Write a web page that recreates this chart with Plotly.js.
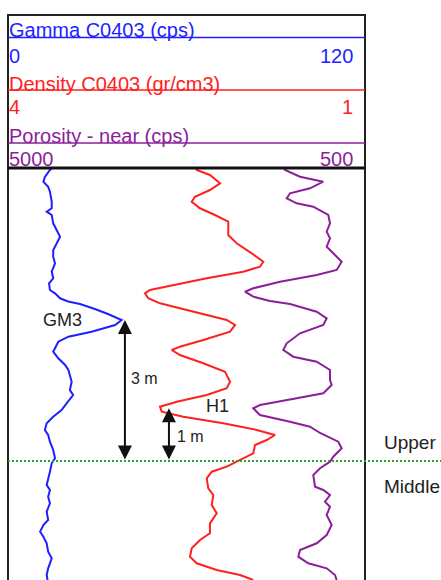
<!DOCTYPE html>
<html><head><meta charset="utf-8">
<script src="https://cdn.plot.ly/plotly-3.0.1.min.js"></script>
<style>html,body{margin:0;padding:0;background:#fff}#chart{width:441px;height:580px}</style>
</head><body><div id="chart"></div>
<script>
// ---- data (depth in m from top of displayed interval) ----
const gammaDepth = [0,0.043,0.191,0.291,0.398,0.504,0.717,0.857,0.930,1.000,1.177,1.319,1.462,1.602,1.745,1.887,2.028,2.206,2.347,2.453,2.596,2.666,2.772,2.840,2.894,3.000,3.106,3.234,3.340,3.483,3.589,3.696,3.909,4.049,4.191,4.298,4.547,4.723,4.830,5.006,5.149,5.291,5.432,5.574,5.681,5.823,6.000,6.177,6.283,6.462,6.638,6.745,6.851,6.994,7.134,7.313,7.489,7.596,7.738,7.845,7.985,8.164,8.304,8.517,8.660,8.766];
const gammaValues = [14.8,14.1,12.4,11.9,13.5,14.1,14.7,14.7,13.0,14.7,15.2,16.4,17.5,16.4,15.2,15.2,15.8,14.7,15.2,13.8,14.1,15.8,17.5,20.2,24.2,29.2,33.6,38.2,36.0,28.1,20.3,16.9,15.2,16.9,19.2,20.3,21.4,20.8,21.9,19.7,18.0,15.2,13.0,12.4,13.5,14.1,15.2,15.8,14.7,14.1,13.5,13.0,14.1,13.5,14.1,13.0,13.5,11.9,10.8,11.9,13.0,13.5,14.7,13.5,13.0,13.3];

const densityDepth = [0,0.043,0.149,0.326,0.468,0.611,0.717,0.857,1.000,1.143,1.426,1.602,1.815,1.994,2.100,2.206,2.347,2.489,2.596,2.666,2.772,2.879,2.951,3.091,3.234,3.340,3.483,3.660,3.802,3.872,3.979,4.155,4.334,4.547,4.687,4.830,4.972,5.079,5.185,5.291,5.432,5.574,5.681,5.787,5.894,6.070,6.213,6.355,6.462,6.602,6.815,6.957,7.170,7.347,7.560,7.772,7.915,8.091,8.270,8.411,8.553,8.660,8.766];
const densityValues = [2.420,2.414,2.303,2.218,2.303,2.429,2.456,2.387,2.261,2.149,2.149,2.078,1.952,1.855,1.882,2.023,2.330,2.611,2.807,2.849,2.821,2.723,2.611,2.387,2.162,2.092,2.134,2.359,2.555,2.624,2.555,2.359,2.176,2.134,2.162,2.330,2.582,2.723,2.708,2.527,2.191,1.910,1.756,1.826,1.924,1.939,2.050,2.162,2.288,2.330,2.317,2.275,2.288,2.246,2.303,2.303,2.387,2.456,2.471,2.414,2.246,2.050,1.939];

const porosityDepth = [0,0.043,0.185,0.291,0.432,0.538,0.645,0.751,0.823,1.000,1.177,1.355,1.496,1.674,1.815,1.994,2.170,2.277,2.419,2.560,2.632,2.738,2.830,2.894,3.057,3.198,3.340,3.517,3.730,3.872,4.015,4.121,4.298,4.511,4.617,4.794,4.900,5.043,5.113,5.255,5.398,5.504,5.638,5.745,5.823,5.964,6.143,6.249,6.389,6.532,6.781,6.851,6.957,7.100,7.206,7.383,7.596,7.809,7.985,8.128,8.270,8.411,8.517,8.660,8.766];
const porosityValues = [1521,1508,1319,1026,1193,1445,1487,1361,1152,963,941,983,941,983,900,794,857,1109,1571,1908,2013,1908,1697,1445,1109,983,1026,1319,1487,1530,1404,1109,941,941,920,1026,1361,1824,1908,1824,1445,1193,1067,941,837,794,900,941,1067,1152,1130,1026,941,1004,941,983,920,983,1109,1319,1341,1215,983,878,857];

const trackNames = ['Gamma C0403 (cps)', 'Density C0403 (gr/cm3)', 'Porosity - near (cps)'];
const gammaScale = [0, 120];
const densityScale = [4, 1];
const porosityScale = [5000, 500];
const trackColors = ['#1f1fff', '#ff2020', '#8c1e9c'];

const gm3Depth = 3.234;      // GM3 gamma peak
const h1Depth = 5.11;        // H1 density pick
const boundaryDepth = 6.234; // Upper / Middle boundary
const zoneNames = ['Upper', 'Middle'];
const depthRange = [8.766, 0];

// ---- layout helpers (pixel -> paper) ----
const W = 441, H = 580;
const px = v => v / W;
const py = v => 1 - v / H;
const FONT = 'Liberation Sans, Arial, sans-serif';
const xDom = [px(8), px(365)];
const yDom = [0, py(168)];

const traces = [
  {x: gammaValues, y: gammaDepth, xaxis: 'x', yaxis: 'y', mode: 'lines', line: {color: trackColors[0], width: 2}, hoverinfo: 'skip'},
  {x: densityValues, y: densityDepth, xaxis: 'x2', yaxis: 'y', mode: 'lines', line: {color: trackColors[1], width: 2}, hoverinfo: 'skip'},
  {x: porosityValues, y: porosityDepth, xaxis: 'x3', yaxis: 'y', mode: 'lines', line: {color: trackColors[2], width: 2}, hoverinfo: 'skip'}
];

const hiddenAx = {showgrid: false, zeroline: false, showticklabels: false, ticks: '', showline: false, fixedrange: true, domain: xDom};

const shapes = [
  {type: 'line', xref: 'paper', yref: 'paper', x0: px(8), x1: px(365), y0: py(15), y1: py(15), line: {color: '#222', width: 2}},
  {type: 'line', xref: 'paper', yref: 'paper', x0: px(8), x1: px(8), y0: py(14), y1: 0, line: {color: '#222', width: 2}},
  {type: 'line', xref: 'paper', yref: 'paper', x0: px(365), x1: px(365), y0: py(14), y1: 0, line: {color: '#222', width: 2}},
  {type: 'line', xref: 'paper', yref: 'paper', x0: px(8), x1: px(365), y0: py(168), y1: py(168), line: {color: '#111', width: 3}},
  {type: 'line', xref: 'paper', yref: 'paper', x0: px(8), x1: px(365), y0: py(37.5), y1: py(37.5), line: {color: trackColors[0], width: 1.5}},
  {type: 'line', xref: 'paper', yref: 'paper', x0: px(8), x1: px(365), y0: py(90), y1: py(90), line: {color: trackColors[1], width: 1.5}},
  {type: 'line', xref: 'paper', yref: 'paper', x0: px(8), x1: px(365), y0: py(143), y1: py(143), line: {color: trackColors[2], width: 1.5}},
  {type: 'line', xref: 'paper', yref: 'y', x0: px(8), x1: 1, y0: boundaryDepth, y1: boundaryDepth, line: {color: '#2ea02e', width: 2, dash: '2px,2px'}}
];

const scales = [gammaScale, densityScale, porosityScale];
const titleY = [30, 84, 135.5];
const scaleY = [56.5, 107.5, 159];
const annotations = [];
trackNames.forEach((name, i) => {
  annotations.push({xref: 'paper', yref: 'paper', x: px(7), y: py(titleY[i]), xanchor: 'left', yanchor: 'middle', text: name, showarrow: false, font: {family: FONT, size: 20, color: trackColors[i]}});
  annotations.push({xref: 'paper', yref: 'paper', x: px(7), y: py(scaleY[i]), xanchor: 'left', yanchor: 'middle', text: String(scales[i][0]), showarrow: false, font: {family: FONT, size: 20, color: trackColors[i]}});
  annotations.push({xref: 'paper', yref: 'paper', x: px(355), y: py(scaleY[i]), xanchor: 'right', yanchor: 'middle', text: String(scales[i][1]), showarrow: false, font: {family: FONT, size: 20, color: trackColors[i]}});
});

// double-headed depth arrows
const arrow3x = 39.3, arrow1x = 54.1; // gamma-axis positions of the arrows
[[arrow3x, gm3Depth], [arrow1x, h1Depth]].forEach(([ax, d]) => {
  annotations.push({xref: 'x', yref: 'y', axref: 'x', ayref: 'y', x: ax, y: d, ax: ax, ay: boundaryDepth, text: '', showarrow: true,
    arrowhead: 2, startarrowhead: 2, arrowside: 'end+start', arrowsize: 1.4, startarrowsize: 1.4, arrowwidth: 2, arrowcolor: '#111', standoff: 0, startstandoff: 0});
});
annotations.push({xref: 'paper', yref: 'y', x: px(41), y: gm3Depth, xanchor: 'left', yanchor: 'middle', text: 'GM3', showarrow: false, font: {family: FONT, size: 18, color: '#222'}});
annotations.push({xref: 'paper', yref: 'y', x: px(204), y: h1Depth - 0.05, xanchor: 'left', yanchor: 'middle', text: 'H1', showarrow: false, font: {family: FONT, size: 18, color: '#222'}});
annotations.push({xref: 'paper', yref: 'y', x: px(129), y: (gm3Depth + boundaryDepth) / 2 - 0.26, xanchor: 'left', yanchor: 'middle', text: '3 m', showarrow: false, font: {family: FONT, size: 16, color: '#222'}});
annotations.push({xref: 'paper', yref: 'y', x: px(175), y: (h1Depth + boundaryDepth) / 2 + 0.05, xanchor: 'left', yanchor: 'middle', text: '1 m', showarrow: false, font: {family: FONT, size: 16, color: '#222'}});
annotations.push({xref: 'paper', yref: 'y', x: px(382), y: boundaryDepth - 0.4, xanchor: 'left', yanchor: 'middle', text: zoneNames[0], showarrow: false, font: {family: FONT, size: 19, color: '#222'}});
annotations.push({xref: 'paper', yref: 'y', x: px(382), y: boundaryDepth + 0.55, xanchor: 'left', yanchor: 'middle', text: zoneNames[1], showarrow: false, font: {family: FONT, size: 19, color: '#222'}});

const layout = {
  width: W, height: H, autosize: false,
  margin: {l: 0, r: 0, t: 0, b: 0, pad: 0},
  paper_bgcolor: '#fff', plot_bgcolor: '#fff',
  showlegend: false,
  xaxis: Object.assign({}, hiddenAx, {range: gammaScale}),
  xaxis2: Object.assign({}, hiddenAx, {range: densityScale, overlaying: 'x'}),
  xaxis3: Object.assign({}, hiddenAx, {range: porosityScale, overlaying: 'x'}),
  yaxis: {range: depthRange, domain: yDom, showgrid: false, zeroline: false, showticklabels: false, ticks: '', showline: false, fixedrange: true},
  shapes: shapes,
  annotations: annotations
};

Plotly.newPlot('chart', traces, layout, {staticPlot: true, displayModeBar: false});
</script>
</body></html>
